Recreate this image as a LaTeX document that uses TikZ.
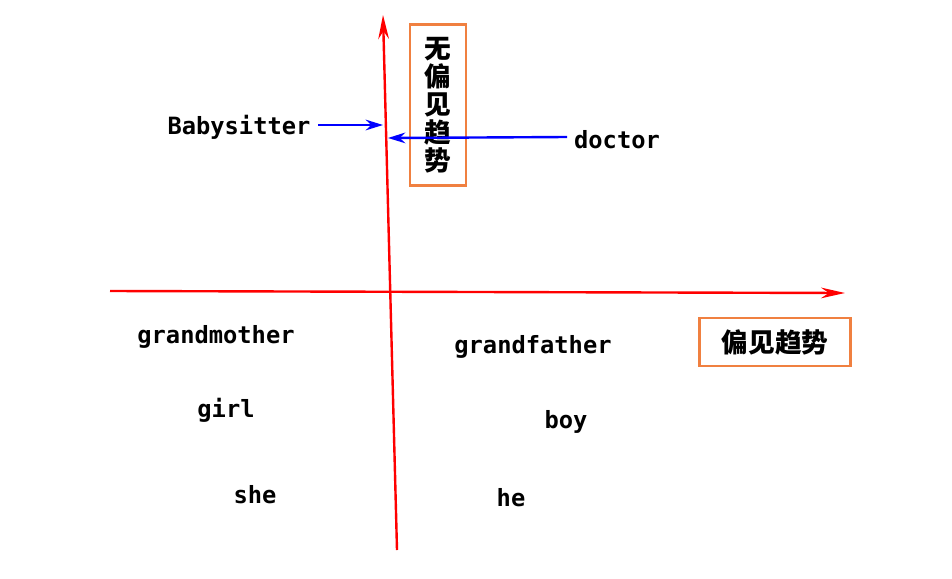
\documentclass[tikz,border=0pt]{standalone}
\usepackage{fontspec}
\setmonofont{DejaVu Sans Mono}
\newfontfamily\cjk{Noto Sans CJK SC}
\usetikzlibrary{arrows.meta}
\definecolor{boxorange}{RGB}{240,128,64}

\begin{document}
\begin{tikzpicture}[x=0.75pt, y=-0.75pt,
    word/.style={font=\ttfamily\bfseries\fontsize{17.8}{20}\selectfont, inner sep=0pt},
    tag/.style={draw=boxorange, line width=2.2pt, font=\cjk\bfseries\fontsize{20}{21}\selectfont, align=center},
    axis/.style={draw=red, line width=1.8pt, -{Stealth[length=18pt, width=8pt]}},
    pointer/.style={draw=blue, line width=1.8pt, -{Stealth[length=13pt, width=8pt]}}]
    \useasboundingbox (0,0) rectangle (952,578);

    \coordinate (xs) at (110, 291);
    \coordinate (xe) at (845, 293);
    \coordinate (ys) at (397, 550);
    \coordinate (ye) at (383, 15);
    \coordinate (p1) at (383, 125);
    \coordinate (p2) at (388, 138);

    \node[tag, minimum width=42pt, minimum height=121pt, inner sep=2pt] (nobias) at (438, 105) {无\\偏\\见\\趋\\势};
    \node[tag, minimum width=113pt, minimum height=36pt] (bias) at (775, 342) {偏见趋势};

    \node[word] (babysitter) at (239, 127) {Babysitter};
    \node[word] (doctor) at (617, 140) {doctor};
    \node[word] (grandmother) at (216, 337) {grandmother};
    \node[word] (girl) at (226, 410) {girl};
    \node[word] (she) at (255, 495) {she};
    \node[word] (grandfather) at (533, 347) {grandfather};
    \node[word] (boy) at (566, 422) {boy};
    \node[word] (he) at (511, 498) {he};

    \path[axis] (xs) -- (xe);
    \path[axis] (ys) -- (ye);
    \path[pointer] (318, 125) -- (p1);
    \path[pointer] (567, 137) -- (p2);

\end{tikzpicture}
\end{document}
